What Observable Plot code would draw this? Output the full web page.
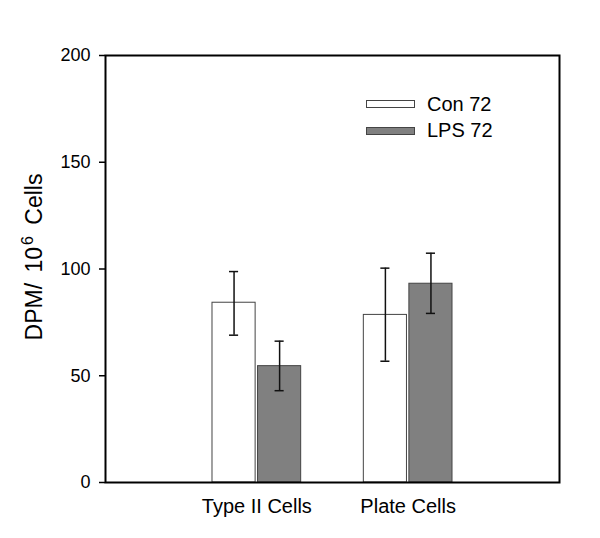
<!DOCTYPE html>
<html>
<head>
<meta charset="utf-8">
<script src="https://cdn.jsdelivr.net/npm/d3@7"></script>
<script src="https://cdn.jsdelivr.net/npm/@observablehq/plot@0.6"></script>
<style>
  body { margin: 0; background: #fff; font-family: "Liberation Sans", Arial, sans-serif; }
  #wrap { position: relative; width: 600px; height: 538px; }
  .legend { position: absolute; left: 366px; top: 91px; font-size: 20px; color: #000; }
  .legend .row { display: flex; align-items: center; height: 26.5px; }
  .legend .sw { width: 49px; height: 8px; border: 1px solid #444; margin-right: 12px; box-sizing: border-box; }
</style>
</head>
<body>
<div id="wrap"></div>
<script>
const categories = ["Type II Cells", "Plate Cells"];
const series = ["Con 72", "LPS 72"];
const seriesFill = ["#ffffff", "#808080"];
const conMean = [84.2, 78.5];
const conLow  = [69.0, 56.8];
const conHigh = [98.8, 100.4];
const lpsMean = [54.5, 93.1];
const lpsLow  = [43.0, 79.2];
const lpsHigh = [66.2, 107.4];
const yTicks = [0, 50, 100, 150, 200];

const means = [conMean, lpsMean], lows = [conLow, lpsLow], highs = [conHigh, lpsHigh];
const rows = [];
categories.forEach((c, ci) => series.forEach((s, si) => rows.push({
  cat: c, ci, series: s, si, mean: means[si][ci], lo: lows[si][ci], hi: highs[si][ci]
})));

const barW = 0.285, gap = 0.008, capW = 0.03;
const left = d => d.ci + 1 + (d.si === 0 ? -gap - barW : gap);
const mid = d => left(d) + barW / 2;

const chart = Plot.plot({
  width: 600, height: 538,
  marginLeft: 105, marginRight: 41, marginTop: 55, marginBottom: 56,
  style: { fontFamily: "Liberation Sans, Arial, sans-serif", color: "#000", background: "#fff" },
  x: { domain: [0, 3] },
  y: { domain: [0, 200] },
  marks: [
    Plot.rect(rows, {
      x1: left, x2: d => left(d) + barW, y1: 0, y2: "mean",
      fill: d => seriesFill[d.si], stroke: "#444", strokeWidth: 1
    }),
    Plot.ruleX(rows, { x: mid, y1: "lo", y2: "hi", stroke: "#111", strokeWidth: 1.5 }),
    Plot.ruleY(rows, { y: "hi", x1: d => mid(d) - capW, x2: d => mid(d) + capW, stroke: "#111", strokeWidth: 1.5 }),
    Plot.ruleY(rows, { y: "lo", x1: d => mid(d) - capW, x2: d => mid(d) + capW, stroke: "#111", strokeWidth: 1.5 }),
    Plot.axisY({ ticks: yTicks, tickSize: 6, tickPadding: 9, fontSize: 18, stroke: "#000", strokeWidth: 1.5,
      label: "DPM/ 10^6 Cells", labelAnchor: "center", labelArrow: "none", labelOffset: 80 }),
    Plot.axisX({ ticks: [1, 2], tickSize: 0, tickPadding: 16, fontSize: 20,
      tickFormat: t => categories[t - 1], label: null }),
    Plot.frame({ stroke: "#000", strokeWidth: 2 })
  ]
});

// superscript in y label
chart.querySelectorAll("text").forEach(t => {
  if (t.textContent === "DPM/ 10^6 Cells") {
    t.textContent = "";
    t.setAttribute("font-size", "23");
    const ns = "http://www.w3.org/2000/svg";
    const a = document.createElementNS(ns, "tspan"); a.textContent = "DPM/"; a.setAttribute("dx", "12");
    const a2 = document.createElementNS(ns, "tspan"); a2.textContent = " 10"; a2.setAttribute("dx", "4");
    const b = document.createElementNS(ns, "tspan"); b.textContent = "6"; b.setAttribute("font-size", "16"); b.setAttribute("dy", "-9"); b.setAttribute("dx", "2");
    const c = document.createElementNS(ns, "tspan"); c.textContent = " Cells"; c.setAttribute("dy", "9"); c.setAttribute("dx", "5");
    t.append(a, a2, b, c);
  }
});

const wrap = document.getElementById("wrap");
wrap.append(chart);
const legend = document.createElement("div");
legend.className = "legend";
series.forEach((s, i) => {
  const row = document.createElement("div"); row.className = "row";
  const sw = document.createElement("div"); sw.className = "sw"; sw.style.background = seriesFill[i];
  const lab = document.createElement("span"); lab.textContent = s;
  row.append(sw, lab); legend.append(row);
});
wrap.append(legend);
</script>
</body>
</html>
